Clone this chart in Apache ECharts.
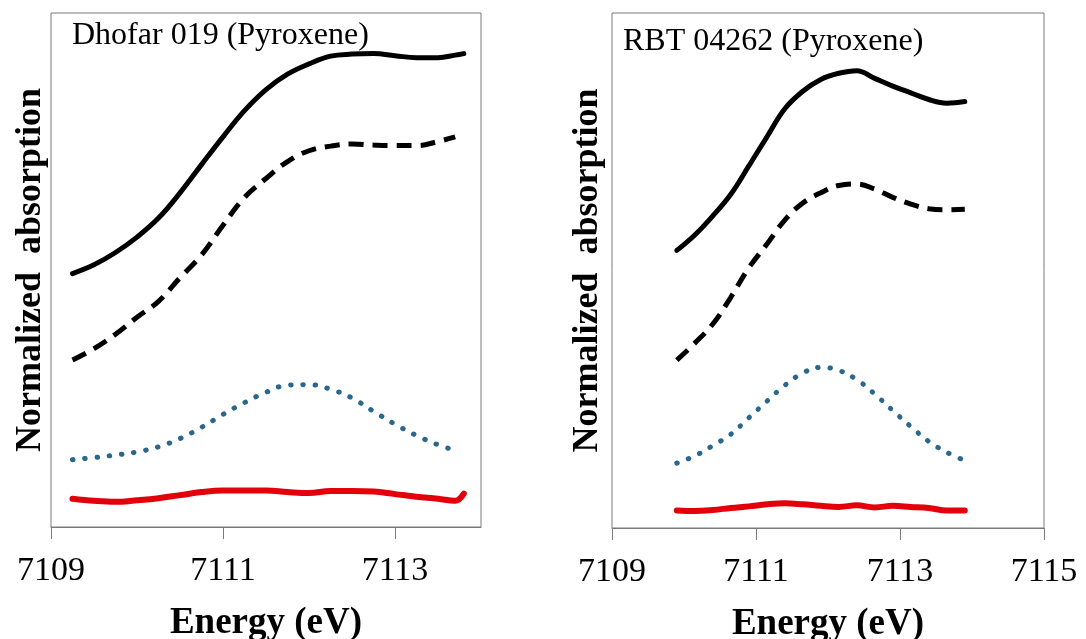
<!DOCTYPE html>
<html>
<head>
<meta charset="utf-8">
<script src="https://cdn.jsdelivr.net/npm/echarts@6/dist/echarts.min.js"></script>
<style>
  html, body { margin: 0; padding: 0; background: #ffffff; }
  #chart { width: 1086px; height: 639px; }
</style>
</head>
<body>
<div id="chart"></div>
<script>
// Fe K pre-edge XANES of pyroxene, two meteorites (energy in eV, normalized absorption)

// Panel A: Dhofar 019
const energyA = [7109.25, 7109.5, 7109.75, 7110.0, 7110.25, 7110.5, 7110.75, 7111.0, 7111.25,
  7111.5, 7111.75, 7112.0, 7112.25, 7112.5, 7112.75, 7113.0, 7113.25, 7113.5, 7113.7, 7113.8];
const measuredA = [0.493, 0.510, 0.534, 0.564, 0.601, 0.650, 0.705, 0.759, 0.810,
  0.851, 0.881, 0.901, 0.916, 0.920, 0.921, 0.917, 0.913, 0.913, 0.918, 0.921];
const fitA = [0.325, 0.347, 0.375, 0.408, 0.439, 0.485, 0.529, 0.587, 0.641,
  0.678, 0.711, 0.732, 0.741, 0.745, 0.743, 0.742, 0.742, 0.750, 0.759, null];
const peakA = [0.131, 0.135, 0.140, 0.146, 0.156, 0.172, 0.194, 0.219, 0.242,
  0.262, 0.276, 0.277, 0.268, 0.251, 0.225, 0.200, 0.178, 0.160, 0.149, null];
const residualA = [0.055, 0.051, 0.049, 0.052, 0.056, 0.062, 0.068, 0.071, 0.071,
  0.071, 0.068, 0.066, 0.070, 0.070, 0.069, 0.064, 0.059, 0.055, 0.051, 0.065];

// Panel B: RBT 04262
const energyB = [7109.9, 7110.15, 7110.4, 7110.65, 7110.9, 7111.15, 7111.4, 7111.65, 7111.9,
  7112.15, 7112.4, 7112.65, 7112.9, 7113.15, 7113.4, 7113.65, 7113.9];
const measuredB = [0.539, 0.569, 0.606, 0.648, 0.703, 0.759, 0.814, 0.848, 0.871,
  0.883, 0.888, 0.873, 0.858, 0.845, 0.832, 0.825, 0.828];
const fitB = [0.326, 0.359, 0.396, 0.448, 0.505, 0.551, 0.598, 0.631, 0.651,
  0.665, 0.668, 0.658, 0.642, 0.629, 0.620, 0.618, 0.619];
const peakB = [0.126, 0.140, 0.160, 0.182, 0.214, 0.246, 0.277, 0.301, 0.312,
  0.306, 0.288, 0.260, 0.228, 0.197, 0.168, 0.147, 0.131];
const residualB = [0.034, 0.033, 0.035, 0.039, 0.042, 0.046, 0.048, 0.046, 0.043,
  0.041, 0.044, 0.040, 0.043, 0.041, 0.039, 0.034, 0.034];

const titles = ['Dhofar 019 (Pyroxene)', 'RBT 04262 (Pyroxene)'];
const ticksA = [7109, 7111, 7113];
const ticksB = [7109, 7111, 7113, 7115];
const xName = 'Energy (eV)';
const yName = 'Normalized  absorption';

const SERIF = '"Liberation Serif", "Times New Roman", Times, serif';
const FRAME = '#7a7a7a';

const pairs = (xs, ys) => xs.map((x, i) => [x, ys[i]]);

function xAxisFor(gridIndex, max, ticks) {
  return {
    type: 'value', gridIndex, min: 7109, max, interval: 2,
    axisLine: { show: true, lineStyle: { color: FRAME, width: 1 } },
    axisTick: { show: true, inside: false, length: 12, customValues: ticks,
      lineStyle: { color: FRAME, width: 1 } },
    axisLabel: { customValues: ticks, formatter: v => String(v), margin: 27,
      fontFamily: SERIF, fontSize: 34, color: '#000' },
    splitLine: { show: false },
    name: xName, nameLocation: 'middle', nameGap: 78,
    nameTextStyle: { fontFamily: SERIF, fontSize: 37, fontWeight: 'bold', color: '#000' }
  };
}

function yAxisFor(gridIndex, gap) {
  return {
    type: 'value', gridIndex, min: 0, max: 1,
    axisLine: { show: false }, axisTick: { show: false },
    axisLabel: { show: false }, splitLine: { show: false },
    name: yName, nameLocation: 'middle', nameRotate: 90, nameGap: gap,
    nameTextStyle: { fontFamily: SERIF, fontSize: 36, fontWeight: 'bold', color: '#000' }
  };
}

function seriesFor(idx, xs, measured, fit, peak, residual) {
  const base = { type: 'line', xAxisIndex: idx, yAxisIndex: idx, symbol: 'none',
    smooth: 0.4, animation: false, connectNulls: false };
  return [
    Object.assign({}, base, { data: pairs(xs, measured),
      lineStyle: { color: '#000', width: 5, cap: 'round' } }),
    Object.assign({}, base, { data: pairs(xs, fit),
      lineStyle: { color: '#000', width: 5, type: [15, 9], cap: 'butt' } }),
    Object.assign({}, base, { data: pairs(xs, peak),
      lineStyle: { color: '#2a678c', width: 5, type: [0.5, 11.8], cap: 'round' } }),
    Object.assign({}, base, { data: pairs(xs, residual),
      lineStyle: { color: '#e3000b', width: 6, cap: 'round' } })
  ];
}

const chart = echarts.init(document.getElementById('chart'), null, { renderer: 'canvas' });
chart.setOption({
  backgroundColor: '#ffffff',
  animation: false,
  title: [
    { text: titles[0], left: 67, top: 15,
      textStyle: { fontFamily: SERIF, fontSize: 32, fontWeight: 'normal', color: '#000' } },
    { text: titles[1], left: 618, top: 21,
      textStyle: { fontFamily: SERIF, fontSize: 32, fontWeight: 'normal', color: '#000' } }
  ],
  grid: [
    { left: 51, top: 13, width: 430, height: 514, show: true, outerBoundsMode: 'none',
      borderColor: FRAME, borderWidth: 1, backgroundColor: 'transparent' },
    { left: 612, top: 13, width: 432, height: 515, show: true, outerBoundsMode: 'none',
      borderColor: FRAME, borderWidth: 1, backgroundColor: 'transparent' }
  ],
  xAxis: [xAxisFor(0, 7114, ticksA), xAxisFor(1, 7115, ticksB)],
  yAxis: [yAxisFor(0, 2), yAxisFor(1, 6)],
  series: [
    ...seriesFor(0, energyA, measuredA, fitA, peakA, residualA),
    ...seriesFor(1, energyB, measuredB, fitB, peakB, residualB)
  ]
});
</script>
</body>
</html>
